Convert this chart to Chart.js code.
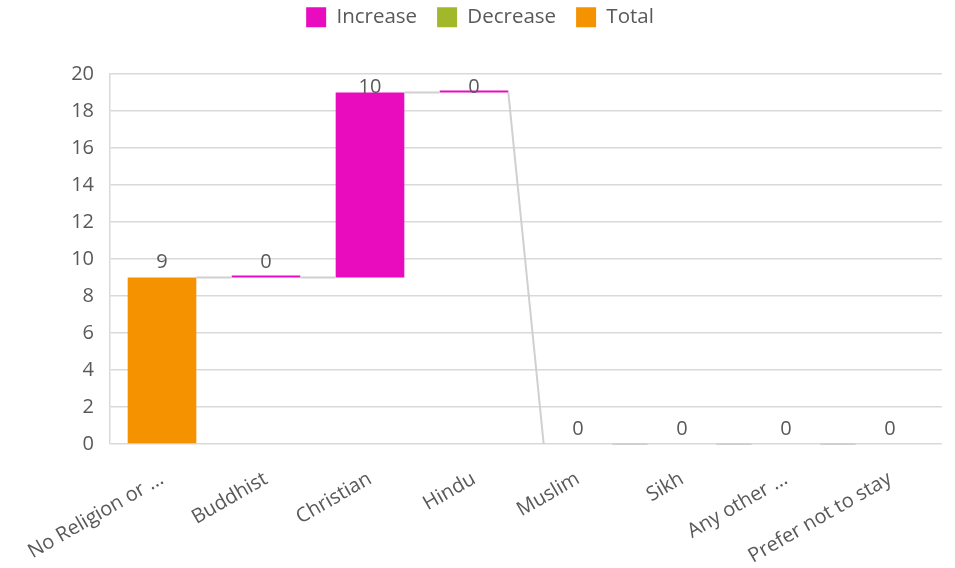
<!DOCTYPE html>
<html>
<head>
<meta charset="utf-8">
<script src="https://cdn.jsdelivr.net/npm/chart.js@4.4.1/dist/chart.umd.min.js"></script>
<style>
  html, body { margin: 0; padding: 0; background: #ffffff; }
  #wrap { width: 955px; height: 568px; position: relative; }
</style>
</head>
<body>
<div id="wrap"><canvas id="c"></canvas></div>
<script>
// ---- data ----
const categories = ["No Religion or ...", "Buddhist", "Christian", "Hindu", "Muslim", "Sikh", "Any other ...", "Prefer not to stay"];
const values = [9, 0, 10, 0, 0, 0, 0, 0];
const kinds = ["total", "increase", "increase", "increase", "total", "total", "total", "total"];
const yTicks = [0, 2, 4, 6, 8, 10, 12, 14, 16, 18, 20];

// ---- build floating ranges from values ----
const increaseData = [], decreaseData = [], totalData = [], ranges = [];
let running = 0;
values.forEach((v, i) => {
  let r;
  if (kinds[i] === "total") { r = [0, v]; running = v; }
  else if (kinds[i] === "increase") { r = [running, running + v]; running += v; }
  else { r = [running, running - v]; running -= v; }
  ranges.push(r);
  increaseData.push(kinds[i] === "increase" ? r : null);
  decreaseData.push(kinds[i] === "decrease" ? r : null);
  totalData.push(kinds[i] === "total" ? r : null);
});

const FONT = "'Open Sans', 'Liberation Sans', sans-serif";
const TXT = "#595959";

const waterfallExtras = {
  id: "waterfallExtras",
  beforeInit(chart) {
    const lg = chart.legend;
    if (lg) {
      const orig = lg.fit;
      lg.fit = function () { orig.call(this); this.height = 87; };
    }
  },
  afterLayout(chart) {
    if (chart.legend) { chart.legend.left += 9; chart.legend.right += 9; }
  },
  afterDatasetsDraw(chart) {
    const ctx = chart.ctx;
    const y = chart.scales.y;
    const area = chart.chartArea;
    const elems = categories.map((_, i) => {
      for (let d = 0; d < 3; d++) {
        const meta = chart.getDatasetMeta(d);
        if (meta.data[i] && chart.data.datasets[d].data[i] !== null) return meta.data[i];
      }
      return null;
    });
    // connectors
    ctx.save();
    ctx.strokeStyle = "#d0d0d0";
    ctx.lineWidth = 2;
    for (let i = 0; i < ranges.length - 1; i++) {
      const a = elems[i], b = elems[i + 1];
      if (!a || !b) continue;
      const x1 = a.x + a.width / 2, x2 = b.x - b.width / 2;
      const y1 = y.getPixelForValue(ranges[i][1]);
      const y2 = y.getPixelForValue(ranges[i + 1][0]);
      ctx.beginPath();
      ctx.moveTo(x1, y1);
      ctx.lineTo(x2, y2);
      ctx.stroke();
    }
    ctx.restore();
    // labels
    ctx.save();
    ctx.fillStyle = TXT;
    ctx.font = "20px " + FONT;
    ctx.textAlign = "center";
    ctx.textBaseline = "middle";
    values.forEach((v, i) => {
      const e = elems[i];
      if (!e) return;
      const top = y.getPixelForValue(Math.max(ranges[i][0], ranges[i][1]));
      const ly = Math.max(top - 15, area.top + 13);
      ctx.fillText(String(v), e.x, ly);
    });
    ctx.restore();
  }
};

new Chart(document.getElementById("c"), {
  type: "bar",
  data: {
    labels: categories,
    datasets: [
      { label: "Increase", data: increaseData, backgroundColor: "#E80CBE", minBarLength: 2 },
      { label: "Decrease", data: decreaseData, backgroundColor: "#A2B82A" },
      { label: "Total", data: totalData, backgroundColor: "#F59200" }
    ]
  },
  options: {
    responsive: true,
    maintainAspectRatio: false,
    animation: false,
    devicePixelRatio: 1,
    layout: { padding: { top: -13, right: 13, left: 0, bottom: 0 } },
    datasets: { bar: { grouped: false, barPercentage: 0.66, categoryPercentage: 1.0 } },
    plugins: {
      legend: {
        position: "top",
        labels: {
          boxWidth: 20, boxHeight: 20, padding: 20,
          color: TXT, font: { family: FONT, size: 20.5 }
        }
      },
      tooltip: { enabled: false }
    },
    scales: {
      x: {
        grid: { display: false, drawTicks: false },
        border: { display: false },
        afterFit(s) { s.height = 124; s.paddingLeft = 0; },
        ticks: {
          color: TXT, font: { family: FONT, size: 20 },
          minRotation: 30, maxRotation: 30, padding: 23, autoSkip: false
        }
      },
      y: {
        min: 0, max: 20,
        afterFit(s) { s.width = 110; },
        afterBuildTicks(s) { s.ticks = yTicks.map(v => ({ value: v })); },
        grid: { color: "#d9d9d9", lineWidth: 1.5, drawTicks: false },
        border: { display: true, color: "#d9d9d9", width: 1.5 },
        ticks: { color: TXT, font: { family: FONT, size: 20 }, padding: 16 }
      }
    }
  },
  plugins: [waterfallExtras]
});
</script>
</body>
</html>
